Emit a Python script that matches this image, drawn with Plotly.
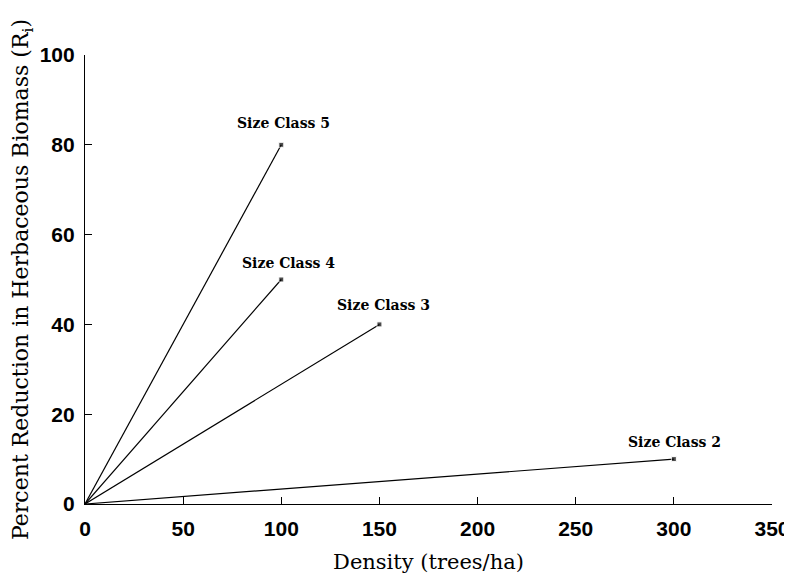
import plotly.graph_objects as go

density_end = [100, 100, 150, 300]
reduction_end = [80, 50, 40, 10]
class_labels = ["Size Class 5", "Size Class 4", "Size Class 3", "Size Class 2"]
label_dx = [2, 7, 4, 1]
label_dy = [22, 17, 19, 17]

x_ticks = [0, 50, 100, 150, 200, 250, 300, 350]
y_ticks = [0, 20, 40, 60, 80, 100]

fig = go.Figure()
for xe, ye in zip(density_end, reduction_end):
    fig.add_trace(go.Scatter(
        x=[0, xe], y=[0, ye], mode="lines+markers",
        line=dict(color="black", width=1.2),
        marker=dict(symbol="square", size=[0, 5], color="black"),
        showlegend=False, hoverinfo="skip", cliponaxis=False))

for xe, ye, lab, dx, dy in zip(density_end, reduction_end, class_labels, label_dx, label_dy):
    fig.add_annotation(x=xe, y=ye, text=lab, showarrow=False,
                       xshift=dx, yshift=dy,
                       font=dict(family="DejaVu Serif", size=14, color="black", weight="bold"))

tick_font = dict(family="Liberation Sans", size=21, color="black", weight="bold")

fig.update_layout(
    width=784, height=567,
    margin=dict(l=77, r=20, t=47, b=71, autoexpand=False),
    plot_bgcolor="white", paper_bgcolor="white",
    xaxis=dict(range=[0, 350], tickvals=x_ticks, ticks="inside", ticklen=7,
               tickcolor="black", showline=True, linecolor="black", linewidth=1.2,
               showgrid=False, zeroline=False, automargin=False,
               ticklabelstandoff=6, tickfont=tick_font,
               title=dict(text="Density (trees/ha)", standoff=15,
                          font=dict(family="DejaVu Serif", size=21, color="black"))),
    yaxis=dict(range=[0, 100], tickvals=y_ticks, ticks="inside", ticklen=7,
               tickcolor="black", showline=True, linecolor="black", linewidth=1.2,
               showgrid=False, zeroline=False, automargin=False,
               ticklabelstandoff=5, tickfont=tick_font,
               title=dict(text="Percent Reduction in Herbaceous Biomass (R<sub>i</sub>)",
                          standoff=6,
                          font=dict(family="DejaVu Serif", size=22, color="black"))),
)

fig.write_html("out.html")
